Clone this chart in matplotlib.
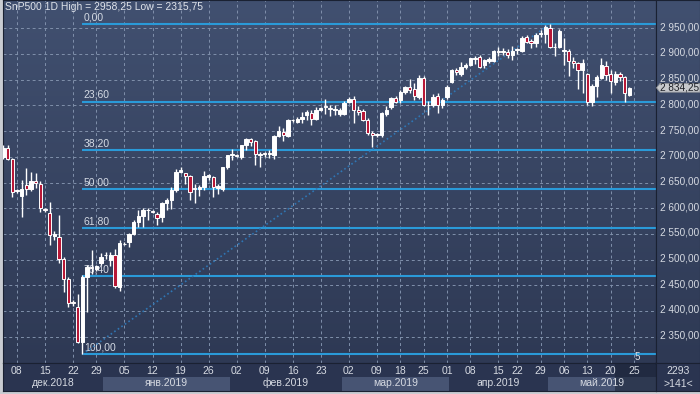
import numpy as np
import matplotlib
matplotlib.use('Agg')
import matplotlib.pyplot as plt
from matplotlib.colors import LinearSegmentedColormap
from matplotlib.patches import Polygon, Rectangle

plt.rcParams['font.family'] = ['Liberation Sans', 'DejaVu Sans']

# daily bars of SnP500 futures, 05.12.2018 .. 24.05.2019 (sunday bars until mid march)
opens = [2700, 2717, 2695, 2633, 2624, 2645, 2637, 2652, 2648, 2599,
         2591, 2546, 2543, 2502, 2463, 2418, 2407, 2340, 2467, 2486,
         2481, 2494, 2508, 2500, 2509, 2447, 2531, 2535, 2550, 2574,
         2585, 2596, 2595, 2588, 2583, 2611, 2616, 2635, 2670, 2668,
         2663, 2640, 2638, 2641, 2660, 2660, 2639, 2637, 2680, 2703,
         2704, 2699, 2722, 2734, 2730, 2704, 2707, 2706, 2703, 2741,
         2748, 2741, 2771, 2767, 2773, 2781, 2786, 2773, 2791, 2798,
         2795, 2791, 2784, 2783, 2806, 2813, 2792, 2790, 2772, 2746,
         2742, 2743, 2783, 2796, 2814, 2810, 2827, 2836, 2831, 2816,
         2853, 2800, 2801, 2818, 2801, 2817, 2846, 2869, 2862, 2875,
         2879, 2891, 2894, 2879, 2886, 2887, 2906, 2903, 2904, 2898,
         2907, 2906, 2934, 2926, 2921, 2939, 2939, 2950, 2914, 2914,
         2906, 2906, 2887, 2882, 2868, 2861, 2807, 2838, 2853, 2877,
         2861, 2846, 2862, 2856, 2820]
highs = [2722, 2723, 2697, 2637, 2655, 2678, 2671, 2669, 2652, 2601,
         2613, 2555, 2587, 2506, 2467, 2421, 2434, 2470, 2489, 2519,
         2490, 2512, 2514, 2515, 2521, 2538, 2534, 2552, 2577, 2597,
         2601, 2600, 2597, 2593, 2613, 2619, 2641, 2676, 2680, 2669,
         2665, 2648, 2645, 2673, 2666, 2663, 2648, 2681, 2704, 2715,
         2706, 2722, 2737, 2736, 2733, 2710, 2710, 2713, 2742, 2760,
         2757, 2773, 2774, 2778, 2787, 2792, 2791, 2796, 2797, 2812,
         2801, 2801, 2795, 2809, 2816, 2818, 2799, 2793, 2775, 2750,
         2746, 2787, 2798, 2817, 2818, 2830, 2838, 2852, 2843, 2860,
         2857, 2808, 2823, 2824, 2814, 2839, 2871, 2872, 2884, 2882,
         2893, 2897, 2898, 2890, 2895, 2908, 2913, 2911, 2909, 2915,
         2912, 2936, 2937, 2930, 2940, 2947, 2956, 2958.25, 2922, 2948,
         2932, 2909, 2895, 2885, 2890, 2864, 2841, 2859, 2892, 2886,
         2869, 2867, 2865, 2857, 2836]
lows = [2696, 2693, 2622, 2630, 2582, 2626, 2634, 2639, 2593, 2592,
        2528, 2538, 2493, 2437, 2408, 2410, 2337, 2315.75, 2398, 2472,
        2478, 2490, 2502, 2487, 2444, 2438, 2528, 2524, 2548, 2564,
        2563, 2577, 2591, 2567, 2574, 2596, 2598, 2632, 2668, 2648,
        2615, 2611, 2624, 2636, 2655, 2621, 2628, 2634, 2676, 2694,
        2700, 2695, 2713, 2721, 2684, 2680, 2699, 2697, 2695, 2738,
        2730, 2738, 2768, 2765, 2765, 2772, 2762, 2771, 2789, 2783,
        2779, 2781, 2780, 2781, 2804, 2766, 2781, 2770, 2742, 2720,
        2738, 2738, 2779, 2793, 2804, 2805, 2822, 2825, 2810, 2813,
        2798, 2781, 2797, 2785, 2795, 2812, 2843, 2860, 2858, 2870,
        2877, 2880, 2872, 2872, 2882, 2884, 2896, 2898, 2892, 2889,
        2900, 2903, 2921, 2912, 2914, 2933, 2922, 2911, 2896, 2912,
        2879, 2857, 2872, 2832, 2824, 2801, 2799, 2816, 2851, 2849,
        2825, 2840, 2848, 2807, 2818]
closes = [2717, 2695, 2632, 2635, 2637, 2638, 2652, 2650, 2600, 2596,
          2548, 2549, 2502, 2463, 2416, 2416, 2340, 2467, 2486, 2483,
          2487, 2506, 2509, 2509, 2448, 2532, 2530, 2550, 2574, 2585,
          2597, 2597, 2593, 2580, 2611, 2616, 2635, 2670, 2675, 2663,
          2632, 2638, 2641, 2663, 2664, 2642, 2643, 2680, 2703, 2705,
          2702, 2722, 2734, 2729, 2705, 2706, 2705, 2708, 2740, 2750,
          2743, 2771, 2772, 2773, 2778, 2788, 2773, 2791, 2795, 2796,
          2793, 2793, 2791, 2805, 2813, 2792, 2788, 2772, 2747, 2743,
          2744, 2785, 2792, 2814, 2807, 2827, 2836, 2830, 2818, 2853,
          2801, 2801, 2817, 2801, 2810, 2836, 2869, 2865, 2875, 2879,
          2892, 2893, 2875, 2888, 2890, 2906, 2904, 2905, 2898, 2906,
          2909, 2932, 2924, 2921, 2937, 2941, 2952, 2913, 2913, 2945,
          2907, 2887, 2882, 2868, 2883, 2807, 2838, 2855, 2879, 2859,
          2848, 2862, 2855, 2824, 2834.25]

# x axis: bar numbers of the weekly ticks and their texts
tick_pos = [3, 9, 15, 20, 26, 32, 38, 44, 50, 56, 62, 68, 74, 80, 85, 90,
            95, 100, 106, 110, 115, 120, 125, 130, 135]
tick_labels = ['08', '15', '22', '29', '05', '12', '19', '26', '02', '09', '16',
               '23', '02', '09', '18', '25', '01', '08', '15', '22', '29', '06',
               '13', '20', '25']
month_names = ['дек.2018', 'янв.2019', 'фев.2019', 'мар.2019', 'апр.2019', 'май.2019']
month_bounds = [21.5, 48.5, 72.5, 95.5, 116.5]

fib_levels = [0.0, 23.6, 38.2, 50.0, 61.8, 76.4, 100.0]
price_ticks = list(range(2350, 2951, 50))


def money(v, sep=' '):
    return f'{v:,.2f}'.replace(',', sep).replace('.', ',')


W, H = 700, 394
fig = plt.figure(figsize=(W / 100, H / 100), dpi=100, facecolor='#c9ccd2')


def px_axes(x0, y0, x1, y1):
    return fig.add_axes([x0 / W, 1 - y1 / H, (x1 - x0) / W, (y1 - y0) / H])


ax = px_axes(3, 0, 656, 363)
ax_x = px_axes(3, 363, 656, 391)
ax_r = px_axes(656, 0, 700, 363)
ax_rb = px_axes(656, 363, 700, 391)

n = len(closes)
idx = np.arange(n)
xlim = (0.02, 139.7)
ylim = (2298.8, 3005.1)

bg = LinearSegmentedColormap.from_list('bg', ['#415070', '#2e3954'])
grad = np.linspace(0, 1, 200).reshape(-1, 1)
for a in (ax, ax_r):
    a.imshow(grad, cmap=bg, aspect='auto', extent=(0, 1, 0, 1),
             transform=a.transAxes, zorder=0)

# grid
ax.set_xticks(tick_pos)
ax.set_yticks(price_ticks)
ax.grid(True, color='#8090ab', ls=(0, (3, 3)), lw=0.7, zorder=1)
ax.tick_params(length=0, labelbottom=False, labelleft=False)

# fibonacci retracement from the low bar to the high bar
hi = max(highs)
lo = min(lows)
i_lo = int(np.argmin(lows))
i_hi = int(np.argmax(highs))
for lev in fib_levels:
    p = hi - (hi - lo) * lev / 100
    ax.hlines(p, i_lo - 0.1, xlim[1], color='#2a9ad8', lw=1.5, zorder=2)
    ax.text(i_lo + 0.3, p + 4, f'{lev:.2f}'.replace('.', ','), color='#d4dae4',
            fontsize=7.5, va='bottom', ha='left', zorder=2)
ax.plot([i_lo, i_hi], [lo, hi], color='#2f76b4', ls=(0, (1, 1.6)), lw=1.2, zorder=2)

# candles
o = np.array(opens)
c = np.array(closes)
bottoms = np.minimum(o, c)
heights = np.maximum(np.abs(c - o), 1.0)
cols = np.where(c >= o, '#ffffff', '#b81837')
ax.vlines(idx, lows, highs, color='white', lw=1.0, zorder=4)
ax.bar(idx, heights, width=0.72, bottom=bottoms, color=cols,
       edgecolor='white', linewidth=0.7, zorder=5)

ax.set_xlim(*xlim)
ax.set_ylim(*ylim)
for s in ax.spines.values():
    s.set_color('#1a2132')

fig.text(5 / W, 1 - 7.5 / H, f'SnP500 1D High = {money(hi, "")} Low = {money(lo, "")}',
         color='#dfe3ea', fontsize=7.5, va='center', ha='left')
fig.text(637 / W, 1 - 357 / H, '5', color='#e0e4ea', fontsize=7, va='center', ha='center')

# time axis strip
ax_x.set_facecolor('#2a3450')
ax_x.set_xlim(*xlim)
ax_x.set_ylim(28, 0)
edges = [xlim[0]] + month_bounds + [xlim[1]]
for k, name in enumerate(month_names):
    a0, a1 = edges[k], edges[k + 1]
    if k % 2 == 1:
        ax_x.add_patch(Rectangle((a0, 14), a1 - a0, 14, color='#475473', lw=0, zorder=1))
    ax_x.text((a0 + a1) / 2, 20, name, color='#d6dae2', fontsize=7.5,
              ha='center', va='center', zorder=3)
for t, lab in zip(tick_pos, tick_labels):
    ax_x.text(t, 8, lab, color='#d6dae2', fontsize=7.5, ha='center', va='center', zorder=3)
ax_x.add_patch(Rectangle((130.9, 0), xlim[1] - 130.9, 28, color='#1b2336',
                         alpha=0.55, lw=0, zorder=2))
ax_x.set_xticks([])
ax_x.set_yticks([])
for s in ax_x.spines.values():
    s.set_color('#1a2132')

# price scale
ax_r.set_xlim(0, 44)
ax_r.set_ylim(*ylim)
for p in price_ticks:
    ax_r.text(4, p + 2, money(p), color='#d6dae2', fontsize=7.2, ha='left', va='center')
last = closes[-1]
dh = 8.5
ax_r.add_patch(Polygon([(0.5, last), (4, last + dh), (44, last + dh),
                        (44, last - dh), (4, last - dh)],
                       closed=True, facecolor='#c6c8cc', edgecolor='#8e9298', lw=0.6, zorder=3))
ax_r.text(4.5, last, money(last), color='#1c1f26', fontsize=7.2, ha='left', va='center', zorder=4)
ax_r.set_xticks([])
ax_r.set_yticks([])
for s in ax_r.spines.values():
    s.set_color('#1a2132')

ax_rb.set_facecolor('#2a3450')
ax_rb.set_xlim(0, 44)
ax_rb.set_ylim(28, 0)
ax_rb.text(22, 8, '2293', color='#d6dae2', fontsize=7.5, ha='center', va='center')
ax_rb.text(22, 21, '>141<', color='#d6dae2', fontsize=7.5, ha='center', va='center')
ax_rb.set_xticks([])
ax_rb.set_yticks([])
for s in ax_rb.spines.values():
    s.set_color('#1a2132')

fig.savefig('out.png', dpi=100, facecolor=fig.get_facecolor())
